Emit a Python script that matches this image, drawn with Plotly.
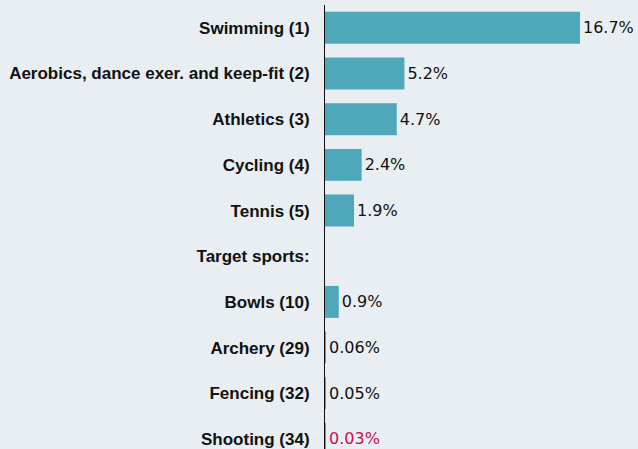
import plotly.graph_objects as go

categories = [
    "Swimming (1)",
    "Aerobics, dance exer. and keep-fit (2)",
    "Athletics (3)",
    "Cycling (4)",
    "Tennis (5)",
    "Target sports:",
    "Bowls (10)",
    "Archery (29)",
    "Fencing (32)",
    "Shooting (34)",
]
values = [16.7, 5.2, 4.7, 2.4, 1.9, None, 0.9, 0.06, 0.05, 0.03]
value_labels = ["16.7%", "5.2%", "4.7%", "2.4%", "1.9%", "", "0.9%", "0.06%", "0.05%", "0.03%"]
label_colors = ["#111111"] * 9 + ["#C8104E"]

BG = "#E8EEF1"
BAR = "#4FA8B9"

fig = go.Figure(
    go.Bar(
        y=list(range(len(categories))),
        x=values,
        orientation="h",
        width=0.7,
        marker=dict(color=BAR, line=dict(width=0)),
        text=value_labels,
        textposition="outside",
        textfont=dict(family="DejaVu Sans, sans-serif", size=16, color=label_colors),
        cliponaxis=False,
        hoverinfo="skip",
    )
)

fig.update_layout(
    width=638,
    height=449,
    paper_bgcolor=BG,
    plot_bgcolor=BG,
    margin=dict(l=325, r=0, t=5, b=0, autoexpand=False),
    showlegend=False,
    bargap=0.3,
    xaxis=dict(
        range=[0, 20.5],
        showgrid=False,
        zeroline=False,
        showticklabels=False,
        ticks="",
        showline=False,
    ),
    yaxis=dict(
        range=[9.22, -0.5],
        tickmode="array",
        tickvals=list(range(len(categories))),
        ticktext=["<b>%s</b>" % c for c in categories],
        tickfont=dict(family="Liberation Sans, Arial, sans-serif", size=17, color="#111111"),
        ticks="",
        ticklabelstandoff=11,
        showgrid=False,
        zeroline=False,
        showline=True,
        linecolor="#111111",
        linewidth=1,
    ),
)

fig.write_html(
    "out.html",
    config={"displayModeBar": False},
    post_script="document.body.style.margin='0';document.body.style.padding='0';document.body.style.background='%s';" % BG,
)
